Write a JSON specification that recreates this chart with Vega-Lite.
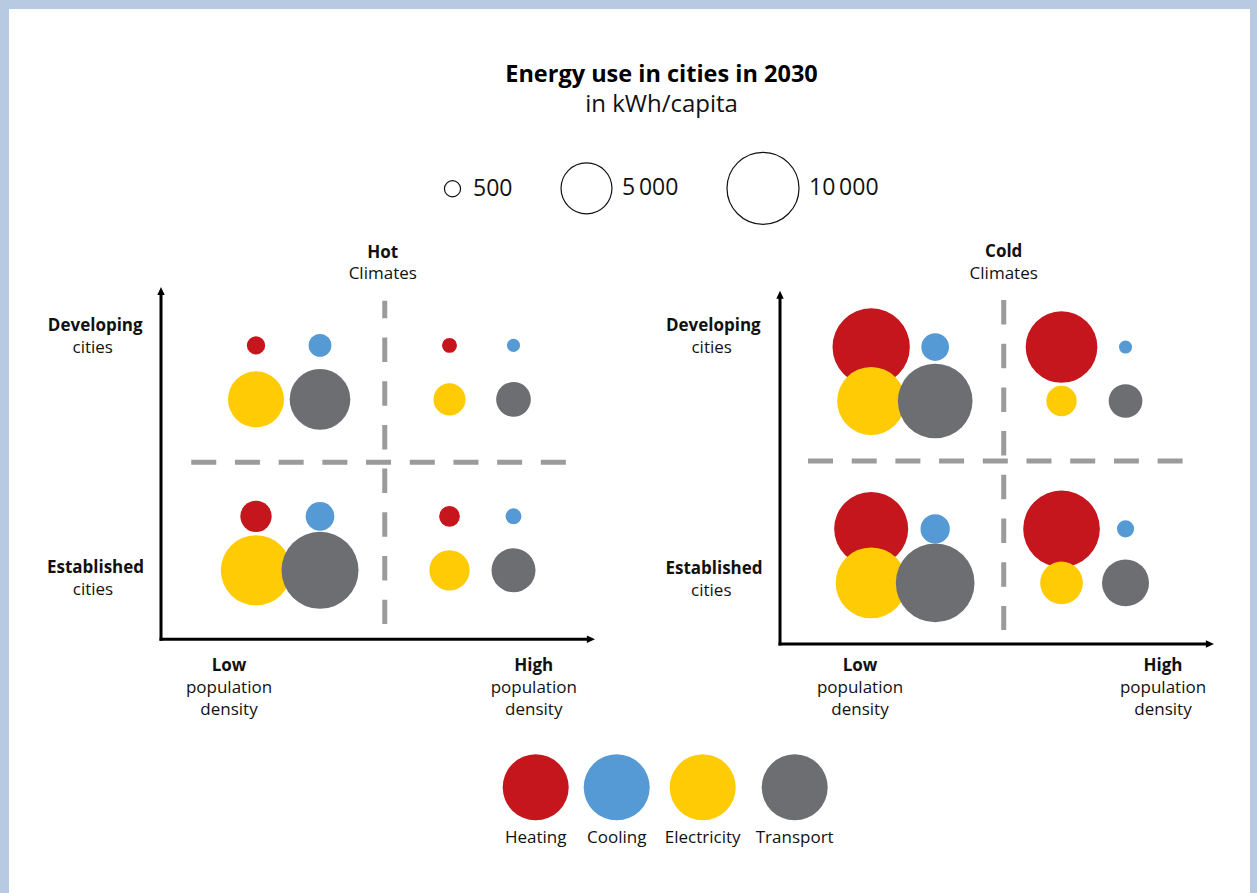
{
  "$schema": "https://vega.github.io/schema/vega-lite/v6.json",
  "background": "#b8c9e2",
  "padding": {"left": 9, "top": 9, "right": 7, "bottom": 0},
  "spacing": 0,
  "bounds": "flush",
  "config": {
    "font": "Open Sans",
    "view": {"fill": "white", "stroke": null},
    "axis": {"disable": true},
    "text": {"font": "Open Sans", "color": "#111"}
  },
  "title": {
    "text": "Energy use in cities in 2030",
    "subtitle": "in kWh/capita",
    "anchor": "middle",
    "frame": "bounds",
    "font": "Open Sans",
    "fontSize": 23.5,
    "fontWeight": "bold",
    "color": "#000",
    "subtitleFont": "Open Sans",
    "subtitleFontSize": 24,
    "subtitleFontWeight": "normal",
    "subtitleColor": "#111",
    "subtitlePadding": 7,
    "offset": -108,
    "dx": 32
  },
  "data": {
    "values": [
      {"climate": "Hot", "development": "Developing", "density": "Low", "type": "Heating", "value": 650},
      {"climate": "Hot", "development": "Developing", "density": "Low", "type": "Cooling", "value": 1000},
      {"climate": "Hot", "development": "Developing", "density": "Low", "type": "Electricity", "value": 6050},
      {"climate": "Hot", "development": "Developing", "density": "Low", "type": "Transport", "value": 7100},
      {"climate": "Hot", "development": "Developing", "density": "High", "type": "Heating", "value": 430},
      {"climate": "Hot", "development": "Developing", "density": "High", "type": "Cooling", "value": 330},
      {"climate": "Hot", "development": "Developing", "density": "High", "type": "Electricity", "value": 1980},
      {"climate": "Hot", "development": "Developing", "density": "High", "type": "Transport", "value": 2320},
      {"climate": "Hot", "development": "Established", "density": "Low", "type": "Heating", "value": 1890},
      {"climate": "Hot", "development": "Established", "density": "Low", "type": "Cooling", "value": 1590},
      {"climate": "Hot", "development": "Established", "density": "Low", "type": "Electricity", "value": 9530},
      {"climate": "Hot", "development": "Established", "density": "Low", "type": "Transport", "value": 11440},
      {"climate": "Hot", "development": "Established", "density": "High", "type": "Heating", "value": 830},
      {"climate": "Hot", "development": "Established", "density": "High", "type": "Cooling", "value": 490},
      {"climate": "Hot", "development": "Established", "density": "High", "type": "Electricity", "value": 3130},
      {"climate": "Hot", "development": "Established", "density": "High", "type": "Transport", "value": 3730},
      {"climate": "Cold", "development": "Developing", "density": "Low", "type": "Heating", "value": 11530},
      {"climate": "Cold", "development": "Developing", "density": "Low", "type": "Cooling", "value": 1480},
      {"climate": "Cold", "development": "Developing", "density": "Low", "type": "Electricity", "value": 8920},
      {"climate": "Cold", "development": "Developing", "density": "Low", "type": "Transport", "value": 10760},
      {"climate": "Cold", "development": "Developing", "density": "High", "type": "Heating", "value": 9910},
      {"climate": "Cold", "development": "Developing", "density": "High", "type": "Cooling", "value": 330},
      {"climate": "Cold", "development": "Developing", "density": "High", "type": "Electricity", "value": 1780},
      {"climate": "Cold", "development": "Developing", "density": "High", "type": "Transport", "value": 2190},
      {"climate": "Cold", "development": "Established", "density": "Low", "type": "Heating", "value": 10560},
      {"climate": "Cold", "development": "Established", "density": "Low", "type": "Cooling", "value": 1660},
      {"climate": "Cold", "development": "Established", "density": "Low", "type": "Electricity", "value": 9720},
      {"climate": "Cold", "development": "Established", "density": "Low", "type": "Transport", "value": 11940},
      {"climate": "Cold", "development": "Established", "density": "High", "type": "Heating", "value": 11340},
      {"climate": "Cold", "development": "Established", "density": "High", "type": "Cooling", "value": 560},
      {"climate": "Cold", "development": "Established", "density": "High", "type": "Electricity", "value": 3510},
      {"climate": "Cold", "development": "Established", "density": "High", "type": "Transport", "value": 4260}
    ]
  },
  "hconcat": [
    {
      "width": 620,
      "height": 884,
      "transform": [{"filter": {"field": "climate", "equal": "Hot"}}],
      "layer": [
        {
          "data": {"values": [{}]},
          "mark": {"type": "rule", "color": "#9b9b9b", "strokeWidth": 5, "strokeDash": [25, 18.7]},
          "encoding": {
            "x": {"datum": "Low", "bandPosition": 0},
            "x2": {"datum": "High", "bandPosition": 1},
            "y": {"datum": "Established", "bandPosition": 0.026}
          }
        },
        {
          "data": {"values": [{}]},
          "mark": {"type": "rule", "color": "#9b9b9b", "strokeWidth": 5, "strokeDash": [24.5, 19.2], "strokeDashOffset": 6.9},
          "encoding": {
            "x": {"datum": "Low", "bandPosition": 1},
            "y": {"datum": "Developing", "bandPosition": 0.0807},
            "y2": {"datum": "Established", "bandPosition": 0.972}
          }
        },
        {
          "data": {"values": [{}]},
          "mark": {"type": "rule", "color": "#000", "strokeWidth": 3},
          "encoding": {
            "x": {"datum": "Low", "bandPosition": -0.1563},
            "y": {"datum": "Developing", "bandPosition": 0.0357},
            "y2": {"datum": "Established", "bandPosition": 1.0702}
          }
        },
        {
          "data": {"values": [{}]},
          "mark": {"type": "rule", "color": "#000", "strokeWidth": 3},
          "encoding": {
            "y": {"datum": "Established", "bandPosition": 1.0614},
            "x": {"datum": "Low", "bandPosition": -0.164},
            "x2": {"datum": "High", "bandPosition": 1.0556}
          }
        },
        {
          "data": {"values": [{}]},
          "mark": {"type": "point", "shape": "M0,0L1,2.2L-1,2.2Z", "size": 55, "filled": true, "color": "#000", "opacity": 1},
          "encoding": {
            "x": {"datum": "Low", "bandPosition": -0.1563},
            "y": {"datum": "Developing", "bandPosition": 0}
          }
        },
        {
          "data": {"values": [{}]},
          "mark": {"type": "point", "shape": "M0,0L-2.2,-1L-2.2,1Z", "size": 55, "filled": true, "color": "#000", "opacity": 1},
          "encoding": {
            "x": {"datum": "High", "bandPosition": 1.0866},
            "y": {"datum": "Established", "bandPosition": 1.0614}
          }
        },
        {
          "transform": [{"filter": {"field": "type", "equal": "Heating"}}],
          "mark": {"type": "circle", "opacity": 1, "xOffset": -32, "yOffset": -27},
          "encoding": {
            "x": {"field": "density", "type": "nominal", "axis": null,
                  "scale": {"type": "band", "domain": ["Low", "High"], "range": [182.25, 569.25], "paddingInner": 0, "paddingOuter": 0}},
            "y": {"field": "development", "type": "nominal", "axis": null,
                  "scale": {"type": "band", "domain": ["Developing", "Established"], "range": [277.9, 619.8], "paddingInner": 0, "paddingOuter": 0}},
            "color": {"field": "type", "type": "nominal",
              "scale": {"domain": ["Heating", "Cooling", "Electricity", "Transport"], "range": ["#c4161c", "#559ad5", "#ffcb05", "#6d6e71"]},
              "legend": {"orient": "none", "direction": "horizontal", "legendX": 493.7, "legendY": 745.3, "title": null,
                "symbolType": "circle", "symbolSize": 4356, "symbolStrokeWidth": 0, "symbolOpacity": 1,
                "labelFontSize": 17, "labelColor": "#111", "labelFont": "Open Sans", "labelAlign": "center", "labelBaseline": "middle",
                "labelOffset": 0, "columnPadding": 15, "padding": 0,
                "encode": {"labels": {"update": {"dx": {"value": -33}, "dy": {"value": 51}}}}}},
            "size": {"field": "value", "type": "quantitative",
              "scale": {"type": "linear", "domain": [0, 10000], "range": [0, 5184], "zero": true},
              "legend": {"orient": "none", "direction": "horizontal", "legendX": 432, "legendY": 142, "title": null,
                "values": [500, 5000, 10000], "symbolType": "circle", "symbolFillColor": "white", "symbolStrokeColor": "#111",
                "symbolStrokeWidth": 1.2, "symbolOpacity": 1, "labelFontSize": 23, "labelColor": "#111", "labelFont": "Open Sans",
                "labelOffset": 9, "columnPadding": 45, "padding": 0,
                "labelExpr": "replace(datum.label, ',', '\u2009')",
                "encode": {"symbols": {"update": {"fill": {"value": "white"}, "stroke": {"value": "#111"}, "strokeWidth": {"value": 1.2}, "fillOpacity": {"value": 1}}}}}}
          }
        },
        {
          "transform": [{"filter": {"field": "type", "equal": "Cooling"}}],
          "mark": {"type": "circle", "opacity": 1, "xOffset": 32, "yOffset": -27},
          "encoding": {
            "x": {"field": "density", "type": "nominal", "axis": null},
            "y": {"field": "development", "type": "nominal", "axis": null},
            "color": {"field": "type", "type": "nominal"},
            "size": {"field": "value", "type": "quantitative"}
          }
        },
        {
          "transform": [{"filter": {"field": "type", "equal": "Electricity"}}],
          "mark": {"type": "circle", "opacity": 1, "xOffset": -32, "yOffset": 27},
          "encoding": {
            "x": {"field": "density", "type": "nominal", "axis": null},
            "y": {"field": "development", "type": "nominal", "axis": null},
            "color": {"field": "type", "type": "nominal"},
            "size": {"field": "value", "type": "quantitative"}
          }
        },
        {
          "transform": [{"filter": {"field": "type", "equal": "Transport"}}],
          "mark": {"type": "circle", "opacity": 1, "xOffset": 32, "yOffset": 27},
          "encoding": {
            "x": {"field": "density", "type": "nominal", "axis": null},
            "y": {"field": "development", "type": "nominal", "axis": null},
            "color": {"field": "type", "type": "nominal"},
            "size": {"field": "value", "type": "quantitative"}
          }
        },
        {
          "data": {"values": [{}]},
          "mark": {"type": "text", "text": "Hot", "fontWeight": "bold", "fontSize": 17, "align": "center", "baseline": "middle", "dx": -2, "dy": -34.2},
          "encoding": {"x": {"datum": "Low", "bandPosition": 1}, "y": {"datum": "Developing", "bandPosition": 0}}
        },
        {
          "data": {"values": [{}]},
          "mark": {"type": "text", "text": "Climates", "fontSize": 17, "align": "center", "baseline": "middle", "dx": -2, "dy": -12.9},
          "encoding": {"x": {"datum": "Low", "bandPosition": 1}, "y": {"datum": "Developing", "bandPosition": 0}}
        },
        {
          "data": {"values": [{}]},
          "mark": {"type": "text", "text": "Developing", "fontWeight": "bold", "fontSize": 17, "align": "center", "baseline": "middle", "dx": -96, "dy": 39.1},
          "encoding": {"x": {"datum": "Low", "bandPosition": 0}, "y": {"datum": "Developing", "bandPosition": 0}}
        },
        {
          "data": {"values": [{}]},
          "mark": {"type": "text", "text": "cities", "fontSize": 17, "align": "center", "baseline": "middle", "dx": -98.5, "dy": 61.4},
          "encoding": {"x": {"datum": "Low", "bandPosition": 0}, "y": {"datum": "Developing", "bandPosition": 0}}
        },
        {
          "data": {"values": [{}]},
          "mark": {"type": "text", "text": "Established", "fontWeight": "bold", "fontSize": 17, "align": "center", "baseline": "middle", "dx": -95.75, "dy": -61.3},
          "encoding": {"x": {"datum": "Low", "bandPosition": 0}, "y": {"datum": "Established", "bandPosition": 1}}
        },
        {
          "data": {"values": [{}]},
          "mark": {"type": "text", "text": "cities", "fontSize": 17, "align": "center", "baseline": "middle", "dx": -98.25, "dy": -38.8},
          "encoding": {"x": {"datum": "Low", "bandPosition": 0}, "y": {"datum": "Established", "bandPosition": 1}}
        },
        {
          "data": {"values": [{}]},
          "mark": {"type": "text", "text": "Low", "fontWeight": "bold", "fontSize": 17, "align": "center", "baseline": "middle", "dx": 37.75, "dy": 36.9},
          "encoding": {"x": {"datum": "Low", "bandPosition": 0}, "y": {"datum": "Established", "bandPosition": 1}}
        },
        {
          "data": {"values": [{}]},
          "mark": {"type": "text", "text": ["population", "density"], "lineHeight": 22, "fontSize": 17, "align": "center", "baseline": "middle", "dx": 37.75, "dy": 59.2},
          "encoding": {"x": {"datum": "Low", "bandPosition": 0}, "y": {"datum": "Established", "bandPosition": 1}}
        },
        {
          "data": {"values": [{}]},
          "mark": {"type": "text", "text": "High", "fontWeight": "bold", "fontSize": 17, "align": "center", "baseline": "middle", "dx": -44.5, "dy": 36.9},
          "encoding": {"x": {"datum": "High", "bandPosition": 1}, "y": {"datum": "Established", "bandPosition": 1}}
        },
        {
          "data": {"values": [{}]},
          "mark": {"type": "text", "text": ["population", "density"], "lineHeight": 22, "fontSize": 17, "align": "center", "baseline": "middle", "dx": -44.5, "dy": 59.2},
          "encoding": {"x": {"datum": "High", "bandPosition": 1}, "y": {"datum": "Established", "bandPosition": 1}}
        }
      ]
    },
    {
      "width": 621,
      "height": 884,
      "transform": [{"filter": {"field": "climate", "equal": "Cold"}}],
      "layer": [
        {
          "data": {"values": [{}]},
          "mark": {"type": "rule", "color": "#9b9b9b", "strokeWidth": 5, "strokeDash": [25, 18.7]},
          "encoding": {
            "x": {"datum": "Low", "bandPosition": 0},
            "x2": {"datum": "High", "bandPosition": 1},
            "y": {"datum": "Developing", "bandPosition": 0.978}
          }
        },
        {
          "data": {"values": [{}]},
          "mark": {"type": "rule", "color": "#9b9b9b", "strokeWidth": 5, "strokeDash": [24.5, 19.2]},
          "encoding": {
            "x": {"datum": "High", "bandPosition": 0.0282},
            "y": {"datum": "Developing", "bandPosition": 0.093},
            "y2": {"datum": "Established", "bandPosition": 0.908}
          }
        },
        {
          "data": {"values": [{}]},
          "mark": {"type": "rule", "color": "#000", "strokeWidth": 3},
          "encoding": {
            "x": {"datum": "Low", "bandPosition": -0.147},
            "y": {"datum": "Developing", "bandPosition": 0.0748},
            "y2": {"datum": "Established", "bandPosition": 0.993}
          }
        },
        {
          "data": {"values": [{}]},
          "mark": {"type": "rule", "color": "#000", "strokeWidth": 3},
          "encoding": {
            "y": {"datum": "Established", "bandPosition": 0.985},
            "x": {"datum": "Low", "bandPosition": -0.1549},
            "x2": {"datum": "High", "bandPosition": 1.1015}
          }
        },
        {
          "data": {"values": [{}]},
          "mark": {"type": "point", "shape": "M0,0L1,2.2L-1,2.2Z", "size": 55, "filled": true, "color": "#000", "opacity": 1},
          "encoding": {
            "x": {"datum": "Low", "bandPosition": -0.147},
            "y": {"datum": "Developing", "bandPosition": 0.0418}
          }
        },
        {
          "data": {"values": [{}]},
          "mark": {"type": "point", "shape": "M0,0L-2.2,-1L-2.2,1Z", "size": 55, "filled": true, "color": "#000", "opacity": 1},
          "encoding": {
            "x": {"datum": "High", "bandPosition": 1.133},
            "y": {"datum": "Established", "bandPosition": 0.985}
          }
        },
        {
          "transform": [{"filter": {"field": "type", "equal": "Heating"}}],
          "mark": {"type": "circle", "opacity": 1, "xOffset": -32, "yOffset": -27},
          "encoding": {
            "x": {"field": "density", "type": "nominal", "axis": null,
                  "scale": {"type": "band", "domain": ["Low", "High"], "range": [179, 559.7], "paddingInner": 0, "paddingOuter": 0}},
            "y": {"field": "development", "type": "nominal", "axis": null,
                  "scale": {"type": "band", "domain": ["Developing", "Established"], "range": [274.1, 637.8], "paddingInner": 0, "paddingOuter": 0}},
            "color": {"field": "type", "type": "nominal"},
            "size": {"field": "value", "type": "quantitative"}
          }
        },
        {
          "transform": [{"filter": {"field": "type", "equal": "Cooling"}}],
          "mark": {"type": "circle", "opacity": 1, "xOffset": 32, "yOffset": -27},
          "encoding": {
            "x": {"field": "density", "type": "nominal", "axis": null},
            "y": {"field": "development", "type": "nominal", "axis": null},
            "color": {"field": "type", "type": "nominal"},
            "size": {"field": "value", "type": "quantitative"}
          }
        },
        {
          "transform": [{"filter": {"field": "type", "equal": "Electricity"}}],
          "mark": {"type": "circle", "opacity": 1, "xOffset": -32, "yOffset": 27},
          "encoding": {
            "x": {"field": "density", "type": "nominal", "axis": null},
            "y": {"field": "development", "type": "nominal", "axis": null},
            "color": {"field": "type", "type": "nominal"},
            "size": {"field": "value", "type": "quantitative"}
          }
        },
        {
          "transform": [{"filter": {"field": "type", "equal": "Transport"}}],
          "mark": {"type": "circle", "opacity": 1, "xOffset": 32, "yOffset": 27},
          "encoding": {
            "x": {"field": "density", "type": "nominal", "axis": null},
            "y": {"field": "development", "type": "nominal", "axis": null},
            "color": {"field": "type", "type": "nominal"},
            "size": {"field": "value", "type": "quantitative"}
          }
        },
        {
          "data": {"values": [{}]},
          "mark": {"type": "text", "text": "Cold", "fontWeight": "bold", "fontSize": 17, "align": "center", "baseline": "middle", "dx": 0, "dy": -30.8},
          "encoding": {"x": {"datum": "High", "bandPosition": 0.0282}, "y": {"datum": "Developing", "bandPosition": 0}}
        },
        {
          "data": {"values": [{}]},
          "mark": {"type": "text", "text": "Climates", "fontSize": 17, "align": "center", "baseline": "middle", "dx": 0, "dy": -9.1},
          "encoding": {"x": {"datum": "High", "bandPosition": 0.0282}, "y": {"datum": "Developing", "bandPosition": 0}}
        },
        {
          "data": {"values": [{}]},
          "mark": {"type": "text", "text": "Developing", "fontWeight": "bold", "fontSize": 17, "align": "center", "baseline": "middle", "dx": -94.7, "dy": 42.9},
          "encoding": {"x": {"datum": "Low", "bandPosition": 0}, "y": {"datum": "Developing", "bandPosition": 0}}
        },
        {
          "data": {"values": [{}]},
          "mark": {"type": "text", "text": "cities", "fontSize": 17, "align": "center", "baseline": "middle", "dx": -96.3, "dy": 65.2},
          "encoding": {"x": {"datum": "Low", "bandPosition": 0}, "y": {"datum": "Developing", "bandPosition": 0}}
        },
        {
          "data": {"values": [{}]},
          "mark": {"type": "text", "text": "Established", "fontWeight": "bold", "fontSize": 17, "align": "center", "baseline": "middle", "dx": -94, "dy": -77.8},
          "encoding": {"x": {"datum": "Low", "bandPosition": 0}, "y": {"datum": "Established", "bandPosition": 1}}
        },
        {
          "data": {"values": [{}]},
          "mark": {"type": "text", "text": "cities", "fontSize": 17, "align": "center", "baseline": "middle", "dx": -96.7, "dy": -55.8},
          "encoding": {"x": {"datum": "Low", "bandPosition": 0}, "y": {"datum": "Established", "bandPosition": 1}}
        },
        {
          "data": {"values": [{}]},
          "mark": {"type": "text", "text": "Low", "fontWeight": "bold", "fontSize": 17, "align": "center", "baseline": "middle", "dx": 52, "dy": 18.9},
          "encoding": {"x": {"datum": "Low", "bandPosition": 0}, "y": {"datum": "Established", "bandPosition": 1}}
        },
        {
          "data": {"values": [{}]},
          "mark": {"type": "text", "text": ["population", "density"], "lineHeight": 22, "fontSize": 17, "align": "center", "baseline": "middle", "dx": 52, "dy": 41.2},
          "encoding": {"x": {"datum": "Low", "bandPosition": 0}, "y": {"datum": "Established", "bandPosition": 1}}
        },
        {
          "data": {"values": [{}]},
          "mark": {"type": "text", "text": "High", "fontWeight": "bold", "fontSize": 17, "align": "center", "baseline": "middle", "dx": -25.7, "dy": 18.9},
          "encoding": {"x": {"datum": "High", "bandPosition": 1}, "y": {"datum": "Established", "bandPosition": 1}}
        },
        {
          "data": {"values": [{}]},
          "mark": {"type": "text", "text": ["population", "density"], "lineHeight": 22, "fontSize": 17, "align": "center", "baseline": "middle", "dx": -25.7, "dy": 41.2},
          "encoding": {"x": {"datum": "High", "bandPosition": 1}, "y": {"datum": "Established", "bandPosition": 1}}
        }
      ]
    }
  ]
}
